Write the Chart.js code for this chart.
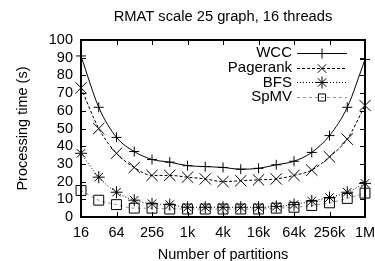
<!DOCTYPE html>
<html lang="en">
<head>
<meta charset="UTF-8">
<title>RMAT scale 25 graph, 16 threads</title>
<script src="https://cdn.jsdelivr.net/npm/chart.js"></script>
<style>
    body { margin: 0; padding: 0; background: #fff; }
    #wrap { width: 375px; height: 261px; }
</style>
</head>
<body>
<div id="wrap"><canvas id="chart" width="375" height="261"></canvas></div>
<script>
// number of partitions (every other one gets a label)
const partitions = ['16', '32', '64', '128', '256', '512', '1k', '2k', '4k', '8k', '16k', '32k', '64k', '128k', '256k', '512k', '1M'];

// processing time in seconds
const wcc      = [91, 62, 45, 37, 32.5, 31, 29, 28.5, 28, 27, 27.5, 29.5, 31.5, 36.5, 46, 62, 89];
const pagerank = [73, 50, 36, 28, 23.5, 23.5, 22.5, 21.5, 20, 20.5, 21, 21.5, 23.5, 26.5, 34, 44, 63];
const bfs      = [36, 22.5, 14, 9.5, 7.5, 7, 5.5, 5.5, 5.5, 5.5, 5.5, 6, 7, 9, 11, 14, 19];
const spmv     = [15, 9.5, 7, 5, 5, 4.5, 4.5, 4.5, 4.5, 4.5, 4.5, 5, 5.5, 6.5, 8, 10.5, 13.5];

const yTicks = [0, 10, 20, 30, 40, 50, 60, 70, 80, 90, 100];

const FONT = '"Liberation Sans", Arial, Helvetica, sans-serif';
const SIZE = 14.5;

// gnuplot style frame with inward ticks on all four sides
const framePlugin = {
    id: 'frame',
    afterDatasetsDraw(chart) {
        const { ctx, chartArea: a, scales } = chart;
        ctx.save();
        ctx.strokeStyle = '#000';
        ctx.lineWidth = 1;
        ctx.setLineDash([]);
        ctx.beginPath();
        yTicks.forEach(v => {
            const y = Math.round(scales.y.getPixelForValue(v)) + 0.5;
            ctx.moveTo(a.left, y); ctx.lineTo(a.left + 5, y);
            ctx.moveTo(a.right, y); ctx.lineTo(a.right - 5, y);
        });
        partitions.forEach((p, i) => {
            if (i % 2) return;
            const x = Math.round(scales.x.getPixelForValue(i)) + 0.5;
            ctx.moveTo(x, a.bottom); ctx.lineTo(x, a.bottom - 5);
            ctx.moveTo(x, a.top); ctx.lineTo(x, a.top + 5);
        });
        ctx.stroke();
        ctx.lineWidth = 2;
        ctx.strokeRect(Math.round(a.left), Math.round(a.top),
            Math.round(a.right - a.left), Math.round(a.bottom - a.top));
        ctx.restore();
    }
};

// key in the top right corner: label, then line sample with marker
const keyPlugin = {
    id: 'key',
    afterDraw(chart) {
        const { ctx, chartArea: a } = chart;
        const textRight = a.right - 73;
        const x0 = a.right - 68, x1 = a.right - 18, xm = (x0 + x1) / 2;
        ctx.save();
        ctx.font = '15px ' + FONT;
        ctx.textAlign = 'right';
        ctx.textBaseline = 'middle';
        chart.data.datasets.forEach((ds, i) => {
            const y = a.top + 13 + i * 14.7;
            ctx.fillStyle = '#000';
            ctx.fillText(ds.label, textRight, y);
            ctx.strokeStyle = ds.borderColor;
            ctx.lineWidth = 1;
            ctx.setLineDash(ds.borderDash || []);
            ctx.beginPath();
            ctx.moveTo(x0, Math.round(y) + 0.5);
            ctx.lineTo(x1, Math.round(y) + 0.5);
            ctx.stroke();
            ctx.setLineDash([]);
            ctx.strokeStyle = '#000';
            ctx.fillStyle = 'rgba(0,0,0,0)';
            Chart.helpers.drawPoint(ctx, {
                pointStyle: ds.pointStyle,
                radius: ds.pointStyle === 'rect' ? 5 : Math.min(ds.pointRadius, 6),
                borderWidth: 1,
                rotation: 0
            }, xm, Math.round(y) + 0.5);
        });
        ctx.restore();
    }
};

function series(label, data, color, dash, style, radius) {
    return {
        label: label,
        data: data,
        borderColor: color,
        borderWidth: 1,
        borderDash: dash,
        pointStyle: style,
        pointRadius: radius,
        pointBorderColor: '#000',
        pointBackgroundColor: 'rgba(0,0,0,0)',
        pointBorderWidth: 1,
        fill: false,
        cubicInterpolationMode: 'monotone'
    };
}

new Chart(document.getElementById('chart'), {
    type: 'line',
    data: {
        labels: partitions,
        datasets: [
            series('WCC', wcc, '#000', [], 'cross', 5),
            series('Pagerank', pagerank, '#000', [3, 2], 'crossRot', 8),
            series('BFS', bfs, '#000', [1, 2], 'star', 6),
            series('SpMV', spmv, '#8c8c8c', [3, 3], 'rect', 7)
        ]
    },
    options: {
        responsive: false,
        animation: false,
        devicePixelRatio: 1,
        layout: { padding: { left: 0, right: 0, top: 0, bottom: 0 } },
        plugins: {
            legend: { display: false },
            tooltip: { enabled: false },
            title: {
                display: true,
                fullSize: false,
                text: 'RMAT scale 25 graph, 16 threads',
                color: '#000',
                font: { family: FONT, size: 14.7, weight: 'normal' },
                padding: { top: 8.2, bottom: 14.2 }
            }
        },
        scales: {
            x: {
                offset: false,
                grid: { display: false, drawTicks: false },
                border: { display: false },
                ticks: {
                    autoSkip: false,
                    maxRotation: 0,
                    padding: 7,
                    color: '#000',
                    font: { family: FONT, size: SIZE },
                    callback: (v, i) => (i % 2 ? '' : partitions[i])
                },
                title: {
                    display: true,
                    text: 'Number of partitions',
                    color: '#000',
                    font: { family: FONT, size: SIZE },
                    padding: { top: 0, bottom: -3 }
                },
                afterFit: s => { s.height = 44; s.paddingLeft = 0; s.paddingRight = 10; }
            },
            y: {
                min: 0,
                max: 100,
                grid: { display: false, drawTicks: false },
                border: { display: false },
                ticks: {
                    stepSize: 10,
                    autoSkip: false,
                    padding: 8,
                    color: '#000',
                    font: { family: FONT, size: SIZE }
                },
                title: {
                    display: true,
                    text: 'Processing time (s)',
                    color: '#000',
                    font: { family: FONT, size: SIZE },
                    padding: { top: 14, bottom: 0 }
                },
                afterFit: s => { s.width = 81; s.paddingTop = 0; s.paddingBottom = 0; }
            }
        }
    },
    plugins: [framePlugin, keyPlugin]
});
</script>
</body>
</html>
